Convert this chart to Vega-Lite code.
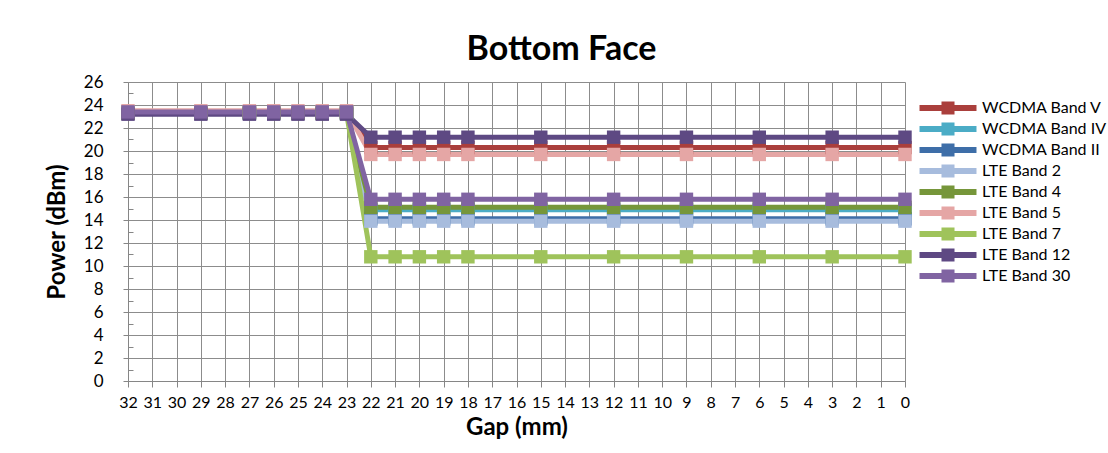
{
  "$schema": "https://vega.github.io/schema/vega-lite/v6.json",
  "width": 777,
  "height": 299,
  "autosize": {"type": "none"},
  "padding": {"left": 128, "top": 82, "right": 203, "bottom": 72},
  "background": "white",
  "title": {"text": "Bottom Face", "fontSize": 34, "font": "Lato", "fontWeight": "bold", "color": "black", "anchor": "middle", "frame": "group", "dx": 45, "offset": 6},
  "config": {
    "view": {"stroke": null},
    "font": "Lato",
    "axis": {"labelFont": "Lato", "titleFont": "Lato", "labelColor": "black", "titleColor": "black", "gridColor": "#8c8c8c", "gridWidth": 1, "domainColor": "#868686", "tickColor": "#868686", "gridOpacity": 1}
  },
  "data": {"values": [
    {"s":"WCDMA Band V","g":32,"p":23.4},{"s":"WCDMA Band V","g":29,"p":23.4},{"s":"WCDMA Band V","g":27,"p":23.4},{"s":"WCDMA Band V","g":26,"p":23.4},{"s":"WCDMA Band V","g":25,"p":23.4},{"s":"WCDMA Band V","g":24,"p":23.4},{"s":"WCDMA Band V","g":23,"p":23.4},{"s":"WCDMA Band V","g":22,"p":20.3},{"s":"WCDMA Band V","g":21,"p":20.3},{"s":"WCDMA Band V","g":20,"p":20.3},{"s":"WCDMA Band V","g":19,"p":20.3},{"s":"WCDMA Band V","g":18,"p":20.3},{"s":"WCDMA Band V","g":15,"p":20.3},{"s":"WCDMA Band V","g":12,"p":20.3},{"s":"WCDMA Band V","g":9,"p":20.3},{"s":"WCDMA Band V","g":6,"p":20.3},{"s":"WCDMA Band V","g":3,"p":20.3},{"s":"WCDMA Band V","g":0,"p":20.3},
    {"s":"WCDMA Band IV","g":32,"p":23.3},{"s":"WCDMA Band IV","g":29,"p":23.3},{"s":"WCDMA Band IV","g":27,"p":23.3},{"s":"WCDMA Band IV","g":26,"p":23.3},{"s":"WCDMA Band IV","g":25,"p":23.3},{"s":"WCDMA Band IV","g":24,"p":23.3},{"s":"WCDMA Band IV","g":23,"p":23.3},{"s":"WCDMA Band IV","g":22,"p":14.9},{"s":"WCDMA Band IV","g":21,"p":14.9},{"s":"WCDMA Band IV","g":20,"p":14.9},{"s":"WCDMA Band IV","g":19,"p":14.9},{"s":"WCDMA Band IV","g":18,"p":14.9},{"s":"WCDMA Band IV","g":15,"p":14.9},{"s":"WCDMA Band IV","g":12,"p":14.9},{"s":"WCDMA Band IV","g":9,"p":14.9},{"s":"WCDMA Band IV","g":6,"p":14.9},{"s":"WCDMA Band IV","g":3,"p":14.9},{"s":"WCDMA Band IV","g":0,"p":14.9},
    {"s":"WCDMA Band II","g":32,"p":23.3},{"s":"WCDMA Band II","g":29,"p":23.3},{"s":"WCDMA Band II","g":27,"p":23.3},{"s":"WCDMA Band II","g":26,"p":23.3},{"s":"WCDMA Band II","g":25,"p":23.3},{"s":"WCDMA Band II","g":24,"p":23.3},{"s":"WCDMA Band II","g":23,"p":23.3},{"s":"WCDMA Band II","g":22,"p":14.1},{"s":"WCDMA Band II","g":21,"p":14.1},{"s":"WCDMA Band II","g":20,"p":14.1},{"s":"WCDMA Band II","g":19,"p":14.1},{"s":"WCDMA Band II","g":18,"p":14.1},{"s":"WCDMA Band II","g":15,"p":14.1},{"s":"WCDMA Band II","g":12,"p":14.1},{"s":"WCDMA Band II","g":9,"p":14.1},{"s":"WCDMA Band II","g":6,"p":14.1},{"s":"WCDMA Band II","g":3,"p":14.1},{"s":"WCDMA Band II","g":0,"p":14.1},
    {"s":"LTE Band 2","g":32,"p":23.4},{"s":"LTE Band 2","g":29,"p":23.4},{"s":"LTE Band 2","g":27,"p":23.4},{"s":"LTE Band 2","g":26,"p":23.4},{"s":"LTE Band 2","g":25,"p":23.4},{"s":"LTE Band 2","g":24,"p":23.4},{"s":"LTE Band 2","g":23,"p":23.4},{"s":"LTE Band 2","g":22,"p":13.9},{"s":"LTE Band 2","g":21,"p":13.9},{"s":"LTE Band 2","g":20,"p":13.9},{"s":"LTE Band 2","g":19,"p":13.9},{"s":"LTE Band 2","g":18,"p":13.9},{"s":"LTE Band 2","g":15,"p":13.9},{"s":"LTE Band 2","g":12,"p":13.9},{"s":"LTE Band 2","g":9,"p":13.9},{"s":"LTE Band 2","g":6,"p":13.9},{"s":"LTE Band 2","g":3,"p":13.9},{"s":"LTE Band 2","g":0,"p":13.9},
    {"s":"LTE Band 4","g":32,"p":23.3},{"s":"LTE Band 4","g":29,"p":23.3},{"s":"LTE Band 4","g":27,"p":23.3},{"s":"LTE Band 4","g":26,"p":23.3},{"s":"LTE Band 4","g":25,"p":23.3},{"s":"LTE Band 4","g":24,"p":23.3},{"s":"LTE Band 4","g":23,"p":23.3},{"s":"LTE Band 4","g":22,"p":15.1},{"s":"LTE Band 4","g":21,"p":15.1},{"s":"LTE Band 4","g":20,"p":15.1},{"s":"LTE Band 4","g":19,"p":15.1},{"s":"LTE Band 4","g":18,"p":15.1},{"s":"LTE Band 4","g":15,"p":15.1},{"s":"LTE Band 4","g":12,"p":15.1},{"s":"LTE Band 4","g":9,"p":15.1},{"s":"LTE Band 4","g":6,"p":15.1},{"s":"LTE Band 4","g":3,"p":15.1},{"s":"LTE Band 4","g":0,"p":15.1},
    {"s":"LTE Band 5","g":32,"p":23.5},{"s":"LTE Band 5","g":29,"p":23.5},{"s":"LTE Band 5","g":27,"p":23.5},{"s":"LTE Band 5","g":26,"p":23.5},{"s":"LTE Band 5","g":25,"p":23.5},{"s":"LTE Band 5","g":24,"p":23.5},{"s":"LTE Band 5","g":23,"p":23.5},{"s":"LTE Band 5","g":22,"p":19.7},{"s":"LTE Band 5","g":21,"p":19.7},{"s":"LTE Band 5","g":20,"p":19.7},{"s":"LTE Band 5","g":19,"p":19.7},{"s":"LTE Band 5","g":18,"p":19.7},{"s":"LTE Band 5","g":15,"p":19.7},{"s":"LTE Band 5","g":12,"p":19.7},{"s":"LTE Band 5","g":9,"p":19.7},{"s":"LTE Band 5","g":6,"p":19.7},{"s":"LTE Band 5","g":3,"p":19.7},{"s":"LTE Band 5","g":0,"p":19.7},
    {"s":"LTE Band 7","g":32,"p":23.3},{"s":"LTE Band 7","g":29,"p":23.3},{"s":"LTE Band 7","g":27,"p":23.3},{"s":"LTE Band 7","g":26,"p":23.3},{"s":"LTE Band 7","g":25,"p":23.3},{"s":"LTE Band 7","g":24,"p":23.3},{"s":"LTE Band 7","g":23,"p":23.3},{"s":"LTE Band 7","g":22,"p":10.8},{"s":"LTE Band 7","g":21,"p":10.8},{"s":"LTE Band 7","g":20,"p":10.8},{"s":"LTE Band 7","g":19,"p":10.8},{"s":"LTE Band 7","g":18,"p":10.8},{"s":"LTE Band 7","g":15,"p":10.8},{"s":"LTE Band 7","g":12,"p":10.8},{"s":"LTE Band 7","g":9,"p":10.8},{"s":"LTE Band 7","g":6,"p":10.8},{"s":"LTE Band 7","g":3,"p":10.8},{"s":"LTE Band 7","g":0,"p":10.8},
    {"s":"LTE Band 12","g":32,"p":23.2},{"s":"LTE Band 12","g":29,"p":23.2},{"s":"LTE Band 12","g":27,"p":23.2},{"s":"LTE Band 12","g":26,"p":23.2},{"s":"LTE Band 12","g":25,"p":23.2},{"s":"LTE Band 12","g":24,"p":23.2},{"s":"LTE Band 12","g":23,"p":23.2},{"s":"LTE Band 12","g":22,"p":21.2},{"s":"LTE Band 12","g":21,"p":21.2},{"s":"LTE Band 12","g":20,"p":21.2},{"s":"LTE Band 12","g":19,"p":21.2},{"s":"LTE Band 12","g":18,"p":21.2},{"s":"LTE Band 12","g":15,"p":21.2},{"s":"LTE Band 12","g":12,"p":21.2},{"s":"LTE Band 12","g":9,"p":21.2},{"s":"LTE Band 12","g":6,"p":21.2},{"s":"LTE Band 12","g":3,"p":21.2},{"s":"LTE Band 12","g":0,"p":21.2},
    {"s":"LTE Band 30","g":32,"p":23.4},{"s":"LTE Band 30","g":29,"p":23.4},{"s":"LTE Band 30","g":27,"p":23.4},{"s":"LTE Band 30","g":26,"p":23.4},{"s":"LTE Band 30","g":25,"p":23.4},{"s":"LTE Band 30","g":24,"p":23.4},{"s":"LTE Band 30","g":23,"p":23.4},{"s":"LTE Band 30","g":22,"p":15.8},{"s":"LTE Band 30","g":21,"p":15.8},{"s":"LTE Band 30","g":20,"p":15.8},{"s":"LTE Band 30","g":19,"p":15.8},{"s":"LTE Band 30","g":18,"p":15.8},{"s":"LTE Band 30","g":15,"p":15.8},{"s":"LTE Band 30","g":12,"p":15.8},{"s":"LTE Band 30","g":9,"p":15.8},{"s":"LTE Band 30","g":6,"p":15.8},{"s":"LTE Band 30","g":3,"p":15.8},{"s":"LTE Band 30","g":0,"p":15.8}
  ]},
  "encoding": {
    "x": {"field": "g", "type": "quantitative", "scale": {"domain": [0, 32], "reverse": true, "nice": false, "zero": false},
      "axis": {"values": [0,1,2,3,4,5,6,7,8,9,10,11,12,13,14,15,16,17,18,19,20,21,22,23,24,25,26,27,28,29,30,31,32], "title": "Gap (mm)", "titleFontSize": 24, "titleFontWeight": "bold", "labelFontSize": 16, "tickSize": 6, "labelPadding": 7, "titlePadding": 5, "labelFlush": false, "labelOverlap": false, "format": "d"}},
    "color": {"field": "s", "type": "nominal", "sort": null,
      "scale": {"domain": ["WCDMA Band V","WCDMA Band IV","WCDMA Band II","LTE Band 2","LTE Band 4","LTE Band 5","LTE Band 7","LTE Band 12","LTE Band 30"],
                "range": ["#AA3F3C","#4BACC6","#3E6EA8","#A7BCDD","#76963A","#E5A6A5","#9FC35B","#5E4983","#8064A2"]},
      "legend": {"title": null, "orient": "none", "legendX": 812, "legendY": 18, "symbolType": "M-4.07,-0.43H4.07V0.43H-4.07Z M-0.93,-0.93H0.93V0.93H-0.93Z", "symbolSize": 196, "symbolStrokeWidth": 0, "symbolOpacity": 1, "labelFontSize": 16, "labelFont": "Lato", "labelColor": "black", "labelOffset": 26, "rowPadding": 5, "labelLimit": 200}}
  },
  "layer": [
    {"mark": {"type": "line", "strokeWidth": 5},
     "encoding": {"y": {"field": "p", "type": "quantitative", "scale": {"domain": [0, 26], "nice": false},
      "axis": {"values": [0,2,4,6,8,10,12,14,16,18,20,22,24,26], "title": "Power (dBm)", "titleFontSize": 24, "titleFontWeight": "bold", "labelFontSize": 17, "tickSize": 5, "labelPadding": 20, "titlePadding": 14, "labelFlush": false, "format": "d"}}}},
    {"mark": {"type": "point", "shape": "square", "filled": true, "size": 180, "opacity": 1},
     "encoding": {"y": {"field": "p", "type": "quantitative", "scale": {"domain": [0, 26], "nice": false},
      "axis": {"orient": "left", "values": [1,3,5,7,9,11,13,15,17,19,21,23,25], "title": null, "labels": false, "grid": false, "domain": false, "ticks": true, "tickSize": -5, "offset": 0}}}}
  ],
  "resolve": {"axis": {"y": "independent"}}
}
